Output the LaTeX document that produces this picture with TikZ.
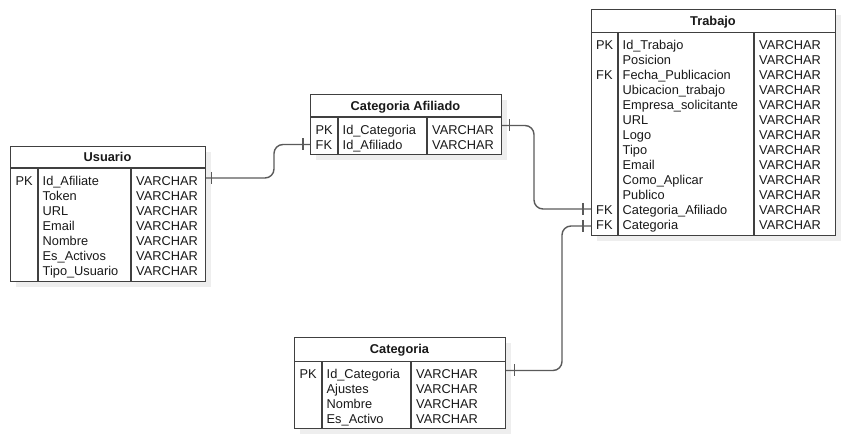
\documentclass[tikz,border=0pt]{standalone}
\usepackage{fontspec}
\setmainfont{Liberation Sans}
\usepackage{tikz}
\usetikzlibrary{positioning, calc}
\definecolor{linecolor}{RGB}{64, 64, 64}
\definecolor{wirecolor}{RGB}{90, 90, 90}
\definecolor{shadowcolor}{RGB}{238, 238, 238}

\begin{document}
\begin{tikzpicture}[
    x=1pt, y=-1pt,
    tablebox/.style={draw=linecolor, line width=1.2pt, fill=white, anchor=north west, inner sep=0pt},
    tabletitle/.style={font=\fontsize{12.8}{15}\selectfont\bfseries, anchor=base, inner sep=0pt, text=black!90},
    fieldtext/.style={font=\fontsize{12.8}{15}\selectfont, anchor=base west, inner sep=0pt, text=black!90},
    seprule/.style={draw=linecolor, line width=1.2pt},
    wire/.style={draw=wirecolor, line width=1.4pt, rounded corners=9pt},
    onebar/.style={draw=wirecolor, line width=1.4pt}
]
    \useasboundingbox (0,0) rectangle (844,438);

    % Usuario
    \fill[shadowcolor] (16,152) rectangle (211,287);
    \node[tablebox, minimum width=195pt, minimum height=135pt] (usr) at (10,146) {};
    \node[tabletitle] (usr-title) at (107.5,161.6) {Usuario};
    \draw[seprule] (usr.west |- 0,168) -- (usr.east |- 0,168);
    \draw[seprule] (38,168) -- (38,281);
    \draw[seprule] (131,168) -- (131,281);
    \foreach \k/\n [count=\i from 0] in {PK/Id\_Afiliate, {}/Token, {}/URL, {}/Email, {}/Nombre, {}/Es\_Activos, {}/Tipo\_Usuario} {
        \coordinate (usr-r\i) at (10,181+15*\i);
        \node[fieldtext] (usr-k\i) at (15.5,185.6+15*\i) {\k};
        \node[fieldtext] (usr-n\i) at (42.5,185.6+15*\i) {\n};
        \node[fieldtext] (usr-t\i) at (136,185.6+15*\i) {VARCHAR};
    }

    % Categoria Afiliado
    \fill[shadowcolor] (316,100) rectangle (507,160);
    \node[tablebox, minimum width=191pt, minimum height=60pt] (catf) at (310,94) {};
    \node[tabletitle] (catf-title) at (405.5,110.1) {Categoria Afiliado};
    \draw[seprule] (catf.west |- 0,117) -- (catf.east |- 0,117);
    \draw[seprule] (338,117) -- (338,154);
    \draw[seprule] (427,117) -- (427,154);
    \foreach \k/\n [count=\i from 0] in {PK/Id\_Categoria, FK/Id\_Afiliado} {
        \coordinate (catf-r\i) at (310,129.5+15*\i);
        \node[fieldtext] (catf-k\i) at (315.5,134.1+15*\i) {\k};
        \node[fieldtext] (catf-n\i) at (342.5,134.1+15*\i) {\n};
        \node[fieldtext] (catf-t\i) at (432,134.1+15*\i) {VARCHAR};
    }

    % Trabajo
    \fill[shadowcolor] (597,15) rectangle (841,241);
    \node[tablebox, minimum width=244pt, minimum height=226pt] (trab) at (591,9) {};
    \node[tabletitle] (trab-title) at (713,25.4) {Trabajo};
    \draw[seprule] (trab.west |- 0,32.5) -- (trab.east |- 0,32.5);
    \draw[seprule] (618,32.5) -- (618,235);
    \draw[seprule] (754,32.5) -- (754,235);
    \foreach \k/\n [count=\i from 0] in {PK/Id\_Trabajo, {}/Posicion, FK/Fecha\_Publicacion, {}/Ubicacion\_trabajo, {}/Empresa\_solicitante, {}/URL, {}/Logo, {}/Tipo, {}/Email, {}/Como\_Aplicar, {}/Publico, FK/Categoria\_Afiliado, FK/Categoria} {
        \coordinate (trab-r\i) at (591,45+15*\i);
        \node[fieldtext] (trab-k\i) at (596,49.6+15*\i) {\k};
        \node[fieldtext] (trab-n\i) at (622.5,49.6+15*\i) {\n};
        \node[fieldtext] (trab-t\i) at (759,49.6+15*\i) {VARCHAR};
    }

    % Categoria
    \fill[shadowcolor] (300,343) rectangle (511,434);
    \node[tablebox, minimum width=211pt, minimum height=91pt] (cat) at (294,337) {};
    \node[tabletitle] (cat-title) at (399.5,353.8) {Categoria};
    \draw[seprule] (cat.west |- 0,361.5) -- (cat.east |- 0,361.5);
    \draw[seprule] (322,361.5) -- (322,428);
    \draw[seprule] (411,361.5) -- (411,428);
    \foreach \k/\n [count=\i from 0] in {PK/Id\_Categoria, {}/Ajustes, {}/Nombre, {}/Es\_Activo} {
        \coordinate (cat-r\i) at (294,373.5+15*\i);
        \node[fieldtext] (cat-k\i) at (299.5,378.1+15*\i) {\k};
        \node[fieldtext] (cat-n\i) at (326.5,378.1+15*\i) {\n};
        \node[fieldtext] (cat-t\i) at (416,378.1+15*\i) {VARCHAR};
    }

    % Connectors
    \draw[wire] ([yshift=3pt]usr.east |- usr-r0) -- ([xshift=-36pt,yshift=3pt]catf.west |- usr-r0)
        -- ([xshift=-36pt]catf.west |- catf-r1) -- (catf.west |- catf-r1);
    \draw[wire] ([yshift=4pt]catf.east |- catf-r0) -- ([xshift=-57pt,yshift=4pt]trab.west |- catf-r0)
        -- ([xshift=-57pt,yshift=1pt]trab.west |- trab-r11) -- ([yshift=1pt]trab.west |- trab-r11);
    \draw[wire] ([yshift=3pt]cat.east |- cat-r0) -- ([xshift=-29pt,yshift=3pt]trab.west |- cat-r0)
        -- ([xshift=-29pt,yshift=-1pt]trab.west |- trab-r12) -- ([yshift=-1pt]trab.west |- trab-r12);

    % Bars
    \draw[onebar] ([xshift=5pt,yshift=9pt]usr.east |- usr-r0) -- ++(0,12);
    \draw[onebar] ([xshift=-7pt,yshift=6pt]catf.west |- catf-r1) -- ++(0,12);
    \draw[onebar] ([xshift=7pt,yshift=10pt]catf.east |- catf-r0) -- ++(0,12);
    \draw[onebar] ([xshift=-8pt,yshift=7pt]trab.west |- trab-r11) -- ++(0,12);
    \draw[onebar] ([xshift=8pt,yshift=9pt]cat.east |- cat-r0) -- ++(0,12);
    \draw[onebar] ([xshift=-8pt,yshift=5pt]trab.west |- trab-r12) -- ++(0,12);
\end{tikzpicture}
\end{document}
